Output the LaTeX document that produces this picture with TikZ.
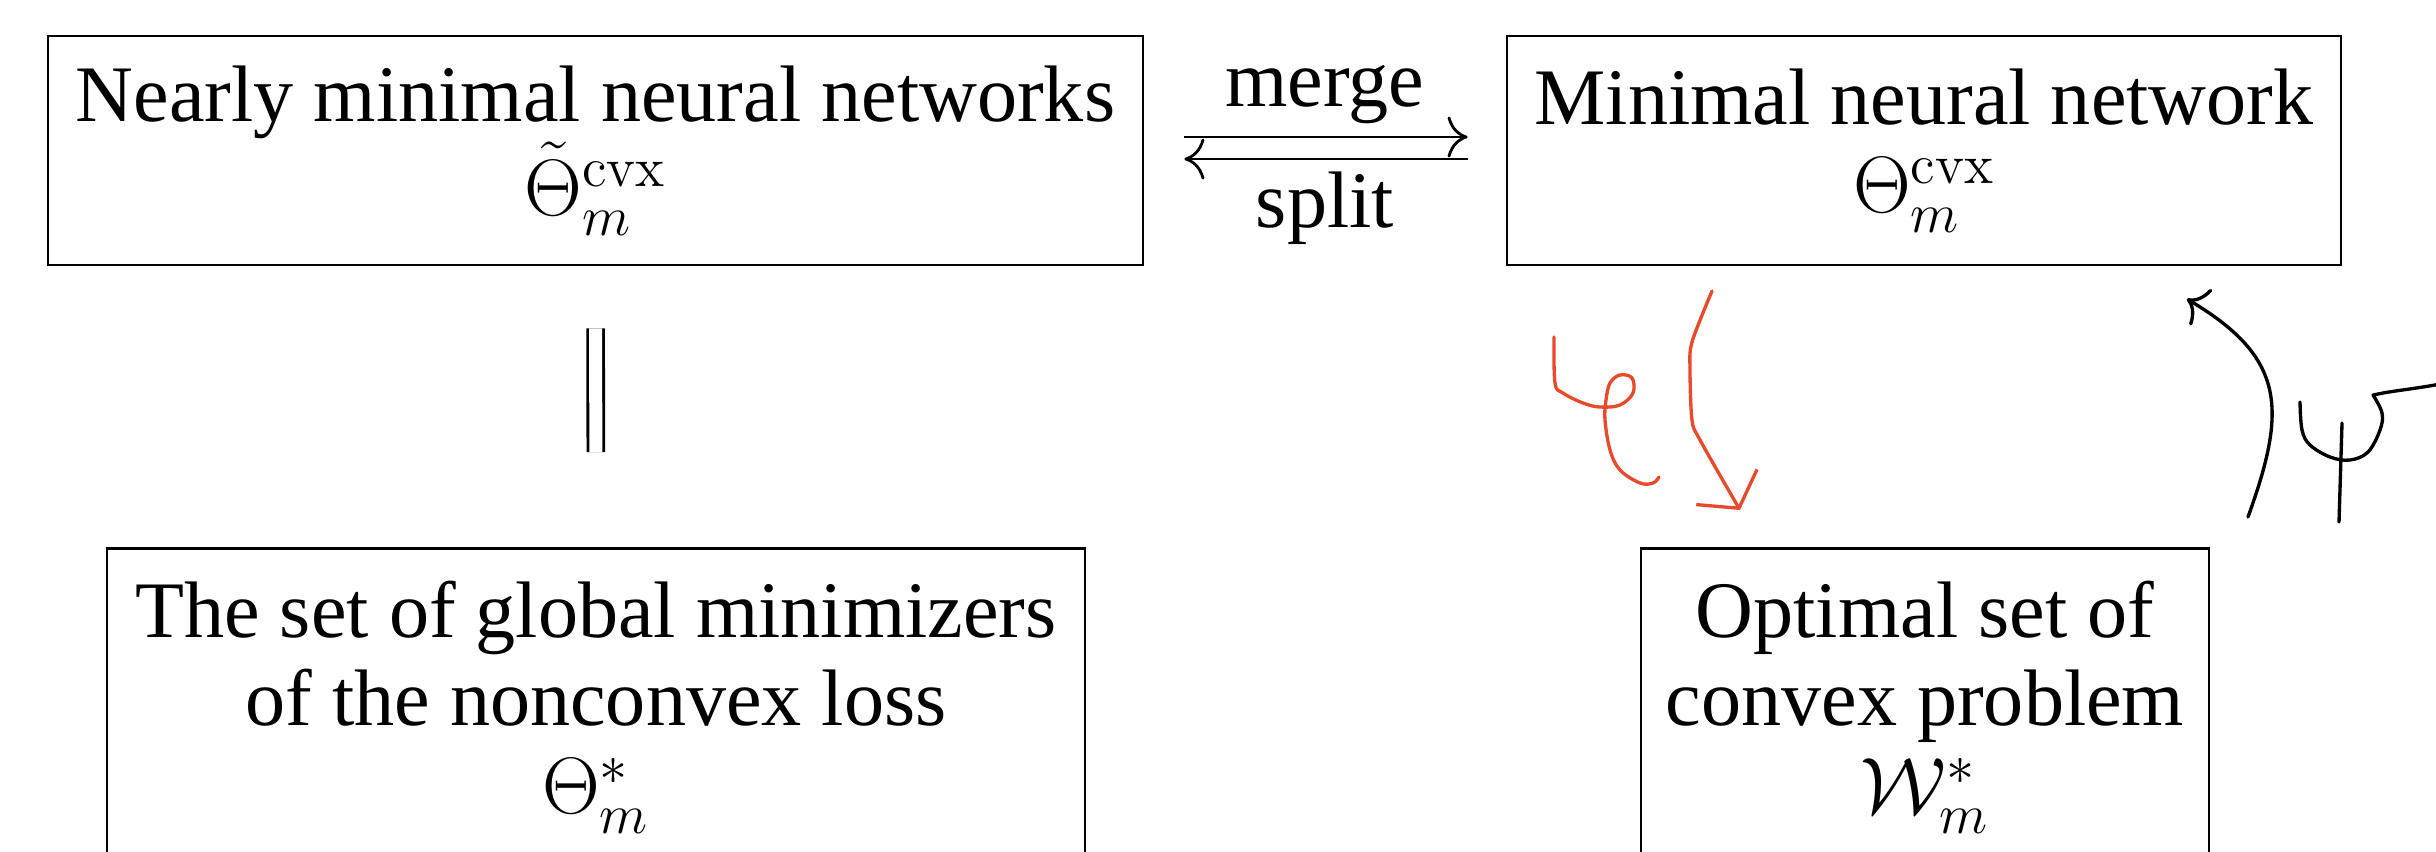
\documentclass[tikz,border=0pt]{standalone}
\usepackage{fix-cm}
\usepackage{amsmath}
\usepackage{amssymb}
\usepackage[no-math]{fontspec}
\setmainfont{Liberation Serif}
\usepackage{tikz}
\usetikzlibrary{arrows.meta, calc}
\definecolor{inkred}{RGB}{232,74,44}

\begin{document}
\begin{tikzpicture}[font=\fontsize{22.8}{25}\selectfont,
            nnbox/.style={draw, line width=0.8pt, align=center, inner xsep=0.1cm},
            cmto/.style={-{Computer Modern Rightarrow[length=5.7pt,width=11.7pt]}, line width=0.8pt},
            ink/.style={line width=0.95pt, line cap=round, line join=round}]
            \path[use as bounding box, clip] (0,0) rectangle (24.36,-8.51);

            \node[nnbox, minimum width=10.95cm, minimum height=2.29cm] (nearly)  at (5.955,-1.505) {Nearly minimal neural networks\\ $\tilde{\Theta}^{\mathrm{cvx}}_m$};
            \node[nnbox, minimum width=8.34cm, minimum height=2.29cm]  (minimal) at (19.24,-1.505) {Minimal neural network\\ $\Theta^{\mathrm{cvx}}_m$};
            \node[nnbox, anchor=north, minimum width=9.78cm, minimum height=3.18cm] (global)  at (5.96,-5.47)  {The set of global minimizers\\ of the nonconvex loss\\ $\Theta^*_m$};
            \node[nnbox, anchor=north, minimum width=5.68cm, minimum height=3.18cm] (optimal) at (19.25,-5.47) {Optimal set of\\ convex problem\\ $\mathcal{W}^*_m$};

            \draw[cmto, shorten <=0.4cm, shorten >=0.38cm] ([yshift=0.135cm]nearly.east) -- node[above] {merge} ([yshift=0.135cm]minimal.west);
            \draw[cmto, shorten <=0.38cm, shorten >=0.4cm] ([yshift=-0.085cm]minimal.west) -- node[below] {split} ([yshift=-0.085cm]nearly.east);
            \draw[double, double distance=0.13cm, line width=0.8pt, shorten <=0.62cm, shorten >=0.95cm] (nearly.south) -- (global.north);

            \coordinate (redstart) at (17.12,-2.91);
            \coordinate (redtip)   at (17.40,-5.10);
            \draw[ink, inkred] plot[smooth, tension=0.6] coordinates {(15.54,-3.37) (15.55,-3.83) (15.63,-3.93) (15.83,-4.03) (16.00,-4.07) (16.20,-4.05) (16.33,-3.93) (16.32,-3.78) (16.20,-3.75) (16.10,-3.83) (16.06,-4.00) (16.05,-4.20) (16.10,-4.50) (16.20,-4.70) (16.40,-4.83) (16.53,-4.83) (16.59,-4.77)};
            \draw[ink, inkred, -{Straight Barb[length=7pt,width=20pt]}] plot[smooth, tension=0.5] coordinates {(redstart) (16.92,-3.42) (16.90,-3.70) (16.92,-4.20) (17.00,-4.40) (redtip)};

            \coordinate (psifoot) at (22.48,-5.17);
            \coordinate (psihead) at (21.87,-2.99);
            \draw[ink, -{Computer Modern Rightarrow[length=5pt,width=12pt]}] (psifoot) .. controls (22.87,-4.09) and (22.86,-3.58) .. (psihead);
            \draw[ink] plot[smooth, tension=0.6] coordinates {(23.00,-4.02) (23.02,-4.30) (23.10,-4.45) (23.30,-4.57) (23.50,-4.60) (23.68,-4.52) (23.80,-4.30) (23.82,-4.13) (23.73,-3.95)} -- (23.83,-3.93) .. controls (24.00,-3.90) and (24.20,-3.88) .. (24.40,-3.84);
            \draw[ink] (23.42,-4.23) -- (23.39,-5.22);
\end{tikzpicture}
\end{document}
